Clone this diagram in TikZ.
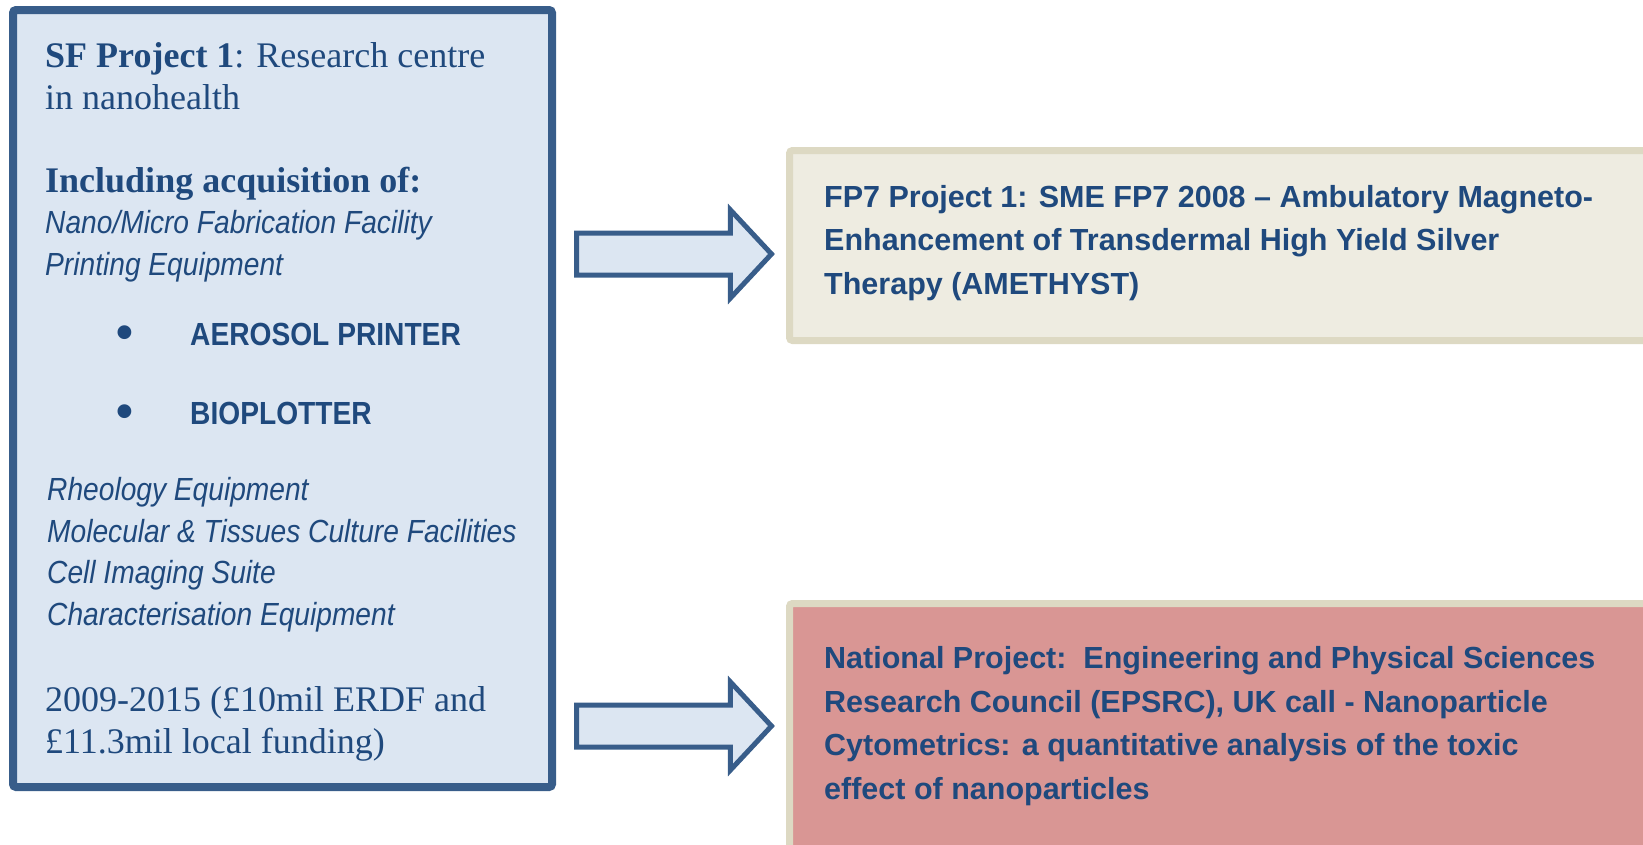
\documentclass[tikz,border=0pt]{standalone}
\usepackage{fontspec}
\setmainfont{Liberation Serif}
\newfontfamily\boxsans{Liberation Sans}
\newfontfamily\tightsans[FakeStretch=0.88]{Liberation Sans}
\usepackage{tikz}
\usetikzlibrary{shapes.arrows, positioning}
\definecolor{panelblue}{HTML}{385D8A}
\definecolor{panelfill}{HTML}{DCE6F2}
\definecolor{inkblue}{HTML}{1F497D}
\definecolor{tanedge}{HTML}{DDD9C3}
\definecolor{tanfill}{HTML}{EEECE1}
\definecolor{rosefill}{HTML}{D99694}
\newcommand{\bigdot}{\makebox[74pt][l]{\raisebox{-3pt}{\boxsans\fontsize{48}{41.5}\selectfont •}}}
\tikzset{
    sfbox/.style={rectangle, rounded corners=3pt, draw=panelblue, fill=panelfill, line width=8pt},
    fpbox/.style={rectangle, rounded corners=3pt, draw=tanedge, fill=tanfill, line width=7pt},
    natbox/.style={fpbox, fill=rosefill},
    blockarrow/.style={single arrow, draw=panelblue, fill=panelfill, line width=5pt, inner xsep=0pt, inner ysep=18.5pt, outer sep=0pt, single arrow head extend=23pt, single arrow tip angle=94, minimum height=195pt, anchor=tail},
    serifline/.style={anchor=base west, inner sep=0pt, align=left, text=inkblue, font=\fontsize{36}{41.5}\selectfont},
    equipline/.style={serifline, font=\tightsans\itshape\fontsize{32}{41.5}\selectfont},
    bulletline/.style={serifline, font=\tightsans\bfseries\fontsize{32}{41.5}\selectfont},
    fpline/.style={anchor=base west, inner sep=0pt, align=left, text=inkblue, font=\boxsans\bfseries\fontsize{30.5}{43.5}\selectfont}
}

\begin{document}
\begin{tikzpicture}[x=1pt, y=-1pt]
    \useasboundingbox (0,0) rectangle (1643,844);
    \clip (0,0) rectangle (1643,844);

    \node (sfpanel) [sfbox, minimum width=539pt, minimum height=777pt] at (282.5,398.5) {};
    \node (fpbox) [fpbox, minimum width=870pt, minimum height=190pt] at (1224.5,245.5) {};
    \node (natbox) [natbox, minimum width=870pt, minimum height=266pt] at (1224.5,736.5) {};

    % multi-line nodes sit on the baseline of their last line
    \node (sftitle) [serifline] at (45,109) {{\bfseries SF Project 1}: Research centre\\in nanohealth};
    \node (sfincl) [serifline] at (45,275) {{\bfseries Including acquisition of:}\\
        {\tightsans\itshape\fontsize{32}{41.5}\selectfont Nano/Micro Fabrication Facility}\\
        {\tightsans\itshape\fontsize{32}{41.5}\selectfont Printing Equipment}};
    \node (aerosol) [bulletline] at (116,345) {\bigdot AEROSOL PRINTER};
    \node (bioplot) [bulletline] at (116,424) {\bigdot BIOPLOTTER};
    \node (sfequip) [equipline] at (47,625) {Rheology Equipment\\Molecular \& Tissues Culture Facilities\\Cell Imaging Suite\\Characterisation Equipment};
    \node (sffund) [serifline] at (45,753) {2009-2015 (£10mil ERDF and\\£11.3mil local funding)};

    \node (fptext) [fpline] at (824,294) {FP7 Project 1: SME FP7 2008 – Ambulatory Magneto-\\Enhancement of Transdermal High Yield Silver\\Therapy (AMETHYST)};
    \node (nattext) [fpline] at (824,799) {National Project:\ \ Engineering and Physical Sciences\\Research Council (EPSRC), UK call - Nanoparticle\\Cytometrics: a quantitative analysis of the toxic\\effect of nanoparticles};

    \node (toFP) [blockarrow] at (576.5,254) {};
    \node (toNat) [blockarrow] at (576.5,726) {};
\end{tikzpicture}
\end{document}
